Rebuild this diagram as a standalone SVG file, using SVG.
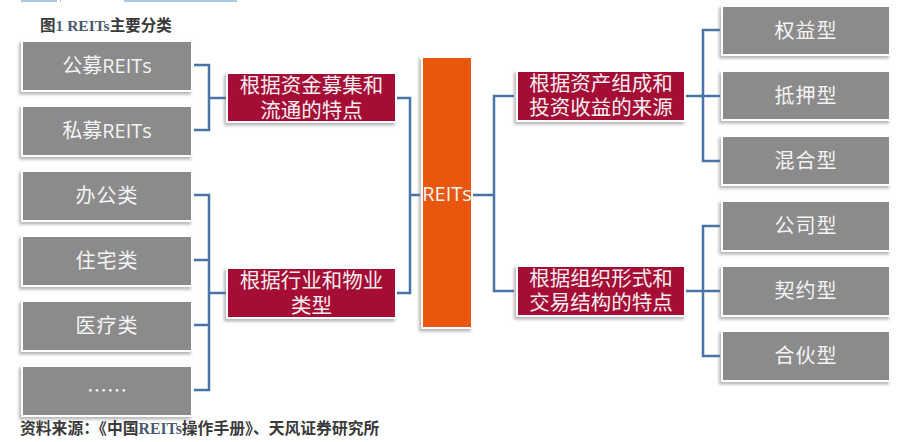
<svg xmlns="http://www.w3.org/2000/svg" width="912" height="442" viewBox="0 0 912 442">
<defs>
<filter id="sh" x="-10%" y="-10%" width="120%" height="130%">
<feDropShadow dx="-2" dy="2.5" stdDeviation="1.4" flood-color="#7a7a7a" flood-opacity="0.55"/>
</filter>
<style>
.g{fill:#8b8b8b;stroke:#ffffff;stroke-width:2;filter:url(#sh)}
.r{fill:#a50d34;stroke:#ffffff;stroke-width:2;filter:url(#sh)}
.o{fill:#e9560c;stroke:#ffffff;stroke-width:2;filter:url(#sh)}
.t{font-family:"Noto Sans CJK SC","Liberation Sans",sans-serif;font-size:20px;fill:#f4f4f4;text-anchor:middle;dominant-baseline:central}
.tr{font-family:"Noto Sans CJK SC","Liberation Sans",sans-serif;font-size:20.5px;fill:#f6eef0;text-anchor:middle;dominant-baseline:central}
.lat{font-family:"Open Sans","Liberation Sans",sans-serif}
.c{fill:none;stroke:#4a73a8;stroke-width:2.5}
.cap{font-family:"Noto Sans CJK SC",sans-serif;font-weight:bold;fill:#3a3a3a}
.ser{font-family:"Liberation Serif",serif;font-weight:bold;fill:#4a5a70}
</style>
</defs>
<rect width="912" height="442" fill="#ffffff"/>
<g id="topbars">
<rect x="21" y="0" width="36" height="2" fill="#a9c9e3"/>
<rect x="60" y="0" width="1" height="2" fill="#e0b080"/>
<rect x="124" y="0" width="113" height="2" fill="#a9c9e3"/>
</g>
<text id="title" x="40" y="31" class="cap" font-size="15.5">图<tspan class="ser">1 REITs</tspan>主要分类</text>

<g id="connectors">
<path class="c" d="M194 65 H209 V130 H194 M209 98 H226"/>
<path class="c" d="M194 195 H209 V390 H194 M194 260 H209 M194 325 H209 M209 293 H226"/>
<path class="c" d="M397 98 H410 V293 H397 M410 195 H420"/>
<path class="c" d="M473 195 H494 M514 96 H494 V291 H514"/>
<path class="c" d="M686 96 H720 M720 30 H703 V161 H720"/>
<path class="c" d="M686 291 H720 M720 226 H703 V356 H720"/>
</g>

<g id="n-gm"><rect class="g" x="22" y="41" width="170" height="50"/><text class="t" x="107" y="64.5">公募<tspan class="lat">REITs</tspan></text></g>
<g id="n-sm"><rect class="g" x="22" y="106" width="170" height="50"/><text class="t" x="107" y="129.5">私募<tspan class="lat">REITs</tspan></text></g>
<g id="n-bg"><rect class="g" x="22" y="171" width="170" height="50"/><text class="t" x="107" y="194.5" letter-spacing="1">办公类</text></g>
<g id="n-zz"><rect class="g" x="22" y="236" width="170" height="50"/><text class="t" x="107" y="259.5" letter-spacing="1">住宅类</text></g>
<g id="n-yl"><rect class="g" x="22" y="301" width="170" height="50"/><text class="t" x="107" y="324.5" letter-spacing="1">医疗类</text></g>
<g id="n-etc"><rect class="g" x="22" y="366" width="170" height="50"/><text class="t" x="107" y="389" font-size="14">……</text></g>

<g id="c-fund"><rect class="r" x="227" y="73" width="169" height="49"/><text class="tr" x="311.5" y="84">根据资金募集和</text><text class="tr" x="311.5" y="109">流通的特点</text></g>
<g id="c-ind"><rect class="r" x="227" y="268" width="169" height="50"/><text class="tr" x="311.5" y="279">根据行业和物业</text><text class="tr" x="311.5" y="304">类型</text></g>

<g id="reits"><rect class="o" x="422" y="57" width="50" height="271"/><text class="t lat" x="447" y="193" font-size="21" fill="#ffffff">REITs</text></g>

<g id="c-asset"><rect class="r" x="517" y="71" width="168" height="50"/><text class="tr" x="601" y="82">根据资产组成和</text><text class="tr" x="601" y="106">投资收益的来源</text></g>
<g id="c-org"><rect class="r" x="517" y="266" width="168" height="50"/><text class="tr" x="601" y="277">根据组织形式和</text><text class="tr" x="601" y="301">交易结构的特点</text></g>

<g id="n-qy"><rect class="g" x="722" y="6" width="168" height="49"/><text class="t" x="806" y="29" letter-spacing="1">权益型</text></g>
<g id="n-dy"><rect class="g" x="722" y="71" width="168" height="49"/><text class="t" x="806" y="94" letter-spacing="1">抵押型</text></g>
<g id="n-hh"><rect class="g" x="722" y="136" width="168" height="49"/><text class="t" x="806" y="159" letter-spacing="1">混合型</text></g>
<g id="n-gs"><rect class="g" x="722" y="201" width="168" height="50"/><text class="t" x="806" y="224.5" letter-spacing="1">公司型</text></g>
<g id="n-qyue"><rect class="g" x="722" y="266" width="168" height="50"/><text class="t" x="806" y="289.5" letter-spacing="1">契约型</text></g>
<g id="n-hhuo"><rect class="g" x="722" y="331" width="168" height="50"/><text class="t" x="806" y="354.5" letter-spacing="1">合伙型</text></g>

<text id="source" x="20" y="434" class="cap" font-size="15.8">资料来源：《中国<tspan class="ser">REITs</tspan>操作手册》、天风证券研究所</text>
</svg>
